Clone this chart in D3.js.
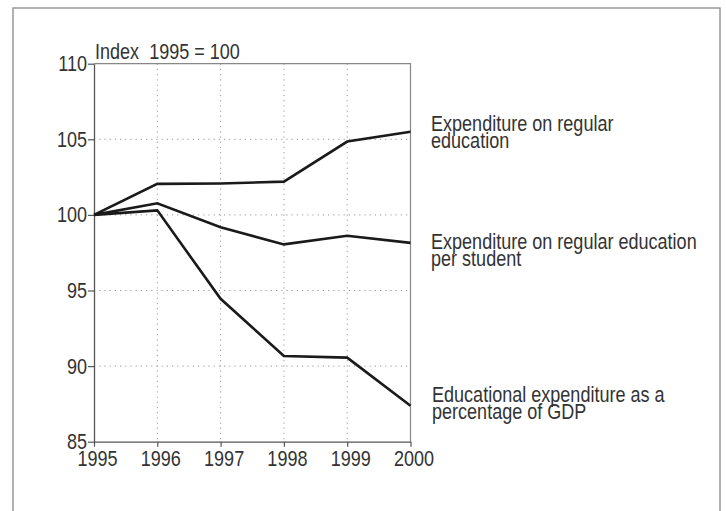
<!DOCTYPE html>
<html>
<head>
<meta charset="utf-8">
<script src="https://cdn.jsdelivr.net/npm/d3@7/dist/d3.min.js"></script>
<style>
  html, body { margin: 0; padding: 0; background: #fff; }
  svg { display: block; }
  text { font-family: "Liberation Sans", Arial, sans-serif; fill: #333; }
</style>
</head>
<body>
<svg id="chart" width="726" height="511"></svg>
<script>
// Index values, 1995 = 100
const years = [1995, 1996, 1997, 1998, 1999, 2000];
const regularEducation = [100, 102.05, 102.08, 102.2, 104.85, 105.5];
const perStudent = [100, 100.77, 99.18, 98.05, 98.62, 98.15];
const shareOfGDP = [100, 100.3, 94.45, 90.67, 90.56, 87.38];

const seriesNames = [
  ["Expenditure on regular", "education"],
  ["Expenditure on regular education", "per student"],
  ["Educational expenditure as a", "percentage of GDP"]
];
const yTicks = [85, 90, 95, 100, 105, 110];
const yTitle = "Index  1995 = 100";

// condensed look: horizontal squeeze of a regular sans face
const SQ = 0.82;
const FS = 22;

const svg = d3.select("#chart");

// outer frame
svg.append("rect")
  .attr("x", 13).attr("y", 8)
  .attr("width", 707).attr("height", 520)
  .attr("fill", "none").attr("stroke", "#999").attr("stroke-width", 1.5);

const plotL = 94, plotR = 410.5, plotT = 63.7, plotB = 441.7;
const x = d3.scaleLinear().domain([1995, 2000]).range([plotL, plotR]);
const y = d3.scaleLinear().domain([85, 110]).range([plotB, plotT]);

// dotted grid
const grid = svg.append("g").attr("stroke", "#999").attr("stroke-width", 1)
  .attr("stroke-dasharray", "1.2,4");
grid.selectAll("line.v").data(years.slice(1, -1)).join("line")
  .attr("class", "v")
  .attr("x1", d => x(d)).attr("x2", d => x(d))
  .attr("y1", plotT).attr("y2", plotB);
grid.selectAll("line.h").data(yTicks.slice(1, -1)).join("line")
  .attr("class", "h")
  .attr("y1", d => y(d)).attr("y2", d => y(d))
  .attr("x1", plotL).attr("x2", plotR);

// plot frame: top and right edges
svg.append("path")
  .attr("d", `M${plotL},${plotT}H${plotR}V${plotB}`)
  .attr("fill", "none").attr("stroke", "#888").attr("stroke-width", 1.2);

// axes
const yAxis = svg.append("g").attr("transform", `translate(${plotL},0)`)
  .call(d3.axisLeft(y).tickValues(yTicks).tickSize(6).tickPadding(1).tickSizeOuter(0));
const xAxis = svg.append("g").attr("transform", `translate(0,${plotB})`)
  .call(d3.axisBottom(x).tickValues(years).tickFormat(d3.format("d")).tickSize(5).tickPadding(4).tickSizeOuter(0));

[yAxis, xAxis].forEach(a => {
  a.select(".domain").attr("stroke", "#555").attr("stroke-width", 1.3);
  a.selectAll(".tick line").attr("stroke", "#555").attr("stroke-width", 1.2);
  a.selectAll(".tick text")
    .attr("font-size", FS).attr("fill", "#333")
    .attr("font-family", "Liberation Sans, Arial, sans-serif")
    .each(function () {
      const t = d3.select(this);
      const xv = +t.attr("x") || 0;
      t.attr("x", xv / SQ).attr("transform", `scale(${SQ},1)`);
    });
});
xAxis.selectAll(".tick text").attr("dx", 3 / SQ);

// squeezed text helper
function addText(px, py, lines, lead) {
  const t = svg.append("text")
    .attr("transform", `translate(${px},${py}) scale(${SQ},1)`)
    .attr("font-size", FS)
    .style("white-space", "pre");
  lines.forEach((s, j) => {
    t.append("tspan").attr("x", 0).attr("dy", j === 0 ? 0 : lead).text(s);
  });
  return t;
}

// axis title
addText(95, 58.5, [yTitle], 0);

// lines
const line = d3.line().x((d, i) => x(years[i])).y(d => y(d));
const allSeries = [regularEducation, perStudent, shareOfGDP];
svg.append("g").selectAll("path").data(allSeries).join("path")
  .attr("d", line)
  .attr("fill", "none").attr("stroke", "#1a1a1a").attr("stroke-width", 2.6)
  .attr("stroke-linejoin", "miter");

// series labels
const labelPos = [[431, 130.5], [431, 248.5], [432, 401.5]];
seriesNames.forEach((lines, k) => addText(labelPos[k][0], labelPos[k][1], lines, 17.8));
</script>
</body>
</html>
